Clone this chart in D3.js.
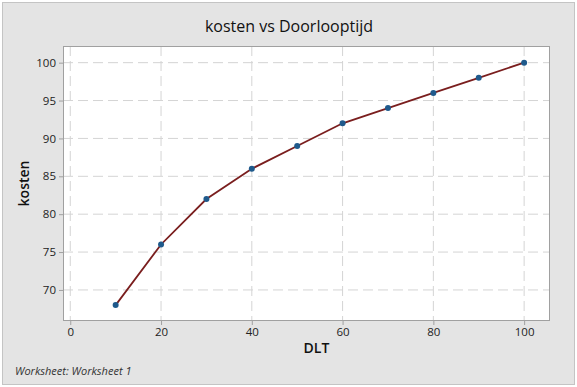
<!DOCTYPE html>
<html>
<head>
<meta charset="utf-8">
<script src="https://cdn.jsdelivr.net/npm/d3@7"></script>
<style>
  body { margin: 0; background: #fff; }
  text { font-family: "Open Sans", "Noto Sans", sans-serif; }
</style>
</head>
<body>
<div id="plot"></div>
<script>
// Data
const dlt = [10, 20, 30, 40, 50, 60, 70, 80, 90, 100];
const kosten = [68, 76, 82, 86, 89, 92, 94, 96, 98, 100];
const xTicks = [0, 20, 40, 60, 80, 100];
const yTicks = [70, 75, 80, 85, 90, 95, 100];

const W = 577, H = 387;
const plot = { left: 63, right: 550, top: 46, bottom: 321 };

const svg = d3.select("#plot").append("svg")
  .attr("width", W).attr("height", H);

// Outer background
svg.append("rect")
  .attr("x", 2.5).attr("y", 2.5)
  .attr("width", W - 5).attr("height", H - 5)
  .attr("fill", "#e4e4e4")
  .attr("stroke", "#c4c4c4");

// Plot area
svg.append("rect")
  .attr("x", plot.left).attr("y", plot.top)
  .attr("width", plot.right - plot.left).attr("height", plot.bottom - plot.top)
  .attr("fill", "#fff");

const x = d3.scaleLinear().domain([-1.6, 105.7]).range([plot.left, plot.right]);
const y = d3.scaleLinear().domain([65.9, 102.2]).range([plot.bottom, plot.top]);

// Gridlines
svg.append("g").selectAll("line")
  .data(xTicks).join("line")
  .attr("x1", d => x(d)).attr("x2", d => x(d))
  .attr("y1", plot.top).attr("y2", plot.bottom)
  .attr("stroke", "#d4d4d4").attr("stroke-dasharray", "10,5");

svg.append("g").selectAll("line")
  .data(yTicks).join("line")
  .attr("x1", plot.left).attr("x2", plot.right)
  .attr("y1", d => y(d)).attr("y2", d => y(d))
  .attr("stroke", "#d4d4d4").attr("stroke-dasharray", "10,5");

// Frame
svg.append("rect")
  .attr("x", plot.left + 0.5).attr("y", plot.top + 0.5)
  .attr("width", plot.right - plot.left - 1).attr("height", plot.bottom - plot.top - 1)
  .attr("fill", "none").attr("stroke", "#a0a0a0");

// Axes
const xAxis = svg.append("g")
  .attr("transform", `translate(0, ${plot.bottom})`)
  .call(d3.axisBottom(x).tickValues(xTicks).tickSize(4).tickPadding(3));
const yAxis = svg.append("g")
  .attr("transform", `translate(${plot.left}, 0)`)
  .call(d3.axisLeft(y).tickValues(yTicks).tickSize(4).tickPadding(3));

[xAxis, yAxis].forEach(a => {
  a.select(".domain").remove();
  a.selectAll(".tick line").attr("stroke", "#a0a0a0");
  a.selectAll(".tick text")
    .attr("fill", "#222")
    .style("font-size", "11.5px");
});

// Line and points
const line = d3.line()
  .x((d, i) => x(dlt[i]))
  .y(d => y(d));

svg.append("path")
  .datum(kosten)
  .attr("d", line)
  .attr("fill", "none")
  .attr("stroke", "#7a1e1e")
  .attr("stroke-width", 1.8);

svg.append("g").selectAll("circle")
  .data(kosten).join("circle")
  .attr("cx", (d, i) => x(dlt[i]))
  .attr("cy", d => y(d))
  .attr("r", 3)
  .attr("fill", "#1f5a8c");

// Title and labels
svg.append("text")
  .attr("x", 289).attr("y", 32)
  .attr("text-anchor", "middle")
  .style("font-size", "16px")
  .attr("fill", "#111")
  .text("kosten vs Doorlooptijd");

svg.append("text")
  .attr("x", (plot.left + plot.right) / 2 + 10).attr("y", 353)
  .attr("text-anchor", "middle")
  .style("font-size", "14px")
  .style("font-weight", "600")
  .attr("fill", "#111")
  .text("DLT");

svg.append("text")
  .attr("transform", `translate(29, ${(plot.top + plot.bottom) / 2}) rotate(-90)`)
  .attr("text-anchor", "middle")
  .style("font-size", "14px")
  .style("font-weight", "600")
  .attr("fill", "#111")
  .text("kosten");

svg.append("text")
  .attr("x", 15).attr("y", 375)
  .style("font-size", "11px")
  .style("font-style", "italic")
  .attr("fill", "#333")
  .text("Worksheet: Worksheet 1");
</script>
</body>
</html>
